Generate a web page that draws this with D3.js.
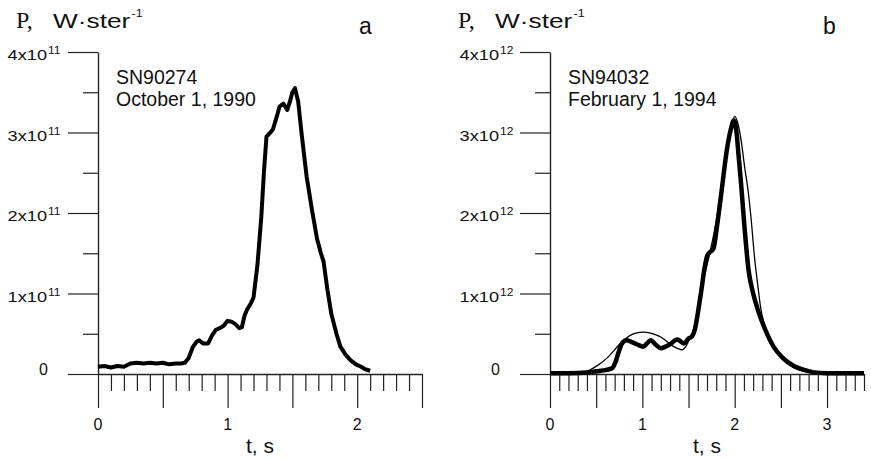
<!DOCTYPE html>
<html>
<head>
<meta charset="utf-8">
<script src="https://cdn.jsdelivr.net/npm/d3@7"></script>
<style>
 body{margin:0;background:#fff;}
 text{font-family:Arial,"Liberation Sans",sans-serif;fill:#111;}
 text.serif{font-family:"Liberation Serif","Times New Roman",serif;}
</style>
</head>
<body>
<svg id="svg" width="871" height="460"></svg>
<script>

var svg = d3.select("#svg");

// panel a : SN90274
var aTime  = [0,0.05,0.1,0.15,0.2,0.25,0.3,0.35,0.4,0.45,0.5,0.55,0.6,0.64,0.67,0.70,0.73,0.76,0.78,0.81,0.85,0.88,0.91,0.94,0.97,1.0,1.03,1.06,1.09,1.11,1.13,1.15,1.18,1.2,1.23,1.26,1.28,1.30,1.33,1.35,1.38,1.40,1.43,1.46,1.48,1.50,1.52,1.545,1.57,1.61,1.65,1.69,1.72,1.74,1.77,1.80,1.84,1.87,1.91,1.95,1.99,2.03,2.06,2.08,2.1];
var aPower = [0.09,0.1,0.08,0.1,0.09,0.13,0.14,0.13,0.14,0.13,0.14,0.12,0.13,0.13,0.14,0.2,0.33,0.4,0.42,0.38,0.38,0.48,0.55,0.57,0.6,0.66,0.65,0.62,0.57,0.58,0.72,0.8,0.88,0.95,1.35,1.95,2.5,2.95,3.0,3.04,3.2,3.32,3.36,3.28,3.38,3.5,3.55,3.38,3.0,2.45,2.05,1.68,1.5,1.4,1.05,0.75,0.5,0.34,0.24,0.17,0.12,0.09,0.06,0.05,0.04];

// panel b : SN94032, thick = observed, thin = model
var bTime  = [0,0.2,0.4,0.55,0.67,0.71,0.74,0.78,0.83,0.88,0.94,1.01,1.05,1.09,1.14,1.2,1.25,1.3,1.38,1.42,1.45,1.5,1.54,1.57,1.6,1.64,1.67,1.7,1.72,1.77,1.81,1.85,1.92,1.96,1.99,2.02,2.04,2.07,2.1,2.15,2.2,2.25,2.33,2.42,2.52,2.64,2.75,2.86,3.0,3.2,3.4];
var bPower = [0.01,0.01,0.02,0.04,0.07,0.15,0.26,0.38,0.42,0.4,0.37,0.34,0.38,0.42,0.37,0.32,0.34,0.37,0.43,0.4,0.38,0.44,0.47,0.56,0.75,1.05,1.29,1.46,1.5,1.56,1.85,2.2,2.82,3.05,3.15,3.0,2.74,2.35,1.91,1.29,1.0,0.8,0.55,0.34,0.2,0.1,0.05,0.02,0.01,0.01,0.01];
var mTime  = [0,0.2,0.3,0.43,0.52,0.62,0.7,0.76,0.82,0.87,0.94,1.01,1.08,1.14,1.2,1.27,1.34,1.4,1.43,1.47,1.52,1.57,1.62,1.67,1.73,1.8,1.87,1.94,1.98,2.0,2.03,2.07,2.11,2.14,2.18,2.21,2.25,2.28,2.34,2.42,2.52,2.64,2.78,2.9,3.0];
var mPower = [0,0.005,0.015,0.05,0.11,0.2,0.3,0.38,0.44,0.48,0.51,0.52,0.51,0.49,0.46,0.4,0.34,0.31,0.3,0.34,0.46,0.6,0.85,1.2,1.5,1.9,2.45,2.95,3.15,3.2,3.13,2.9,2.55,2.32,1.9,1.5,1.1,0.83,0.55,0.33,0.18,0.08,0.03,0.01,0];

var yTicks = [0,1,2,3,4];

var panels = [
  {x0:98,  x1:422, tMax:2.5, tLabels:[0,1,2],   exp:"11", letter:"a", letterX:359,
   name:"SN90274", date:"October 1, 1990", titleX:16},
  {x0:550, x1:864, tMax:3.4, tLabels:[0,1,2,3], exp:"12", letter:"b", letterX:823,
   name:"SN94032", date:"February 1, 1994", titleX:458}
];

var yScale = d3.scaleLinear().domain([0,4]).range([374,52]);

panels.forEach(function(p,k){
  var xScale = d3.scaleLinear().domain([0,p.tMax]).range([p.x0,p.x1]);
  p.xScale = xScale;
  var g = svg.append("g");

  // y axis : long ticks at integers, short ones at halves
  var yMinor = d3.range(0,4.01,0.5);
  g.append("g").attr("transform","translate("+p.x0+",0)")
   .call(d3.axisLeft(yScale).tickValues(yMinor).tickSizeOuter(0).tickFormat("")
         .tickSizeInner(0))
   .call(function(a){
      a.select(".domain").attr("stroke","#222").attr("stroke-width",1.4);
      a.selectAll(".tick line").attr("x2",function(d){return d%1===0 ? -30 : -15;})
       .attr("stroke","#222").attr("stroke-width",1.2);
   });

  // x axis
  var xMinor = d3.range(0,p.tMax+0.001,0.1).map(function(d){return Math.round(d*10)/10;});
  g.append("g").attr("transform","translate(0,374)")
   .call(d3.axisBottom(xScale).tickValues(xMinor).tickSizeOuter(0).tickFormat("").tickSizeInner(0))
   .call(function(a){
      a.select(".domain").attr("stroke","#222").attr("stroke-width",1.4);
      a.selectAll(".tick line").attr("y2",function(d){return Math.round(d*10)%5===0 ? 34 : 17;})
       .attr("stroke","#222").attr("stroke-width",1.2);
   });

  // x tick labels
  g.selectAll(".xl").data(p.tLabels).enter().append("text")
   .attr("x",function(d){return xScale(d);}).attr("y",430)
   .attr("text-anchor","middle").attr("font-size",16).text(function(d){return d;});
  g.append("text").attr("x",(p.x0+p.x1)/2).attr("y",453).attr("text-anchor","middle")
   .attr("font-size",21).text("t, s");

  // y tick labels
  yTicks.forEach(function(v){
    var y = yScale(v);
    if(v===0){
      g.append("text").attr("x",p.x0-50).attr("y",y+1).attr("text-anchor","end")
       .attr("font-size",16).text("0");
    } else {
      g.append("text").attr("text-anchor","end").attr("font-size",14)
       .attr("transform","translate("+(p.x0-51)+","+(y+8)+") scale(1.3,1)").text(v+"x10");
      g.append("text").attr("font-size",10)
       .attr("transform","translate("+(p.x0-50)+","+(y+2)+") scale(1.2,1)").text(p.exp);
    }
  });

  // title
  g.append("text").attr("class","serif").attr("x",p.titleX).attr("y",28)
   .attr("font-size",24).text("P,");
  var t = g.append("text").attr("transform","translate("+(p.titleX+37)+",28) scale(1.25,1)");
  t.append("tspan").attr("font-size",21).text("W\u00b7ster");
  t.append("tspan").attr("dx",1).attr("dy",-11).attr("font-size",10).text("-1");

  g.append("text").attr("x",p.letterX).attr("y",34).attr("font-size",23).text(p.letter);
  g.append("text").attr("x",p.x0+18).attr("y",84).attr("font-size",19.5).text(p.name);
  g.append("text").attr("x",p.x0+18).attr("y",106).attr("font-size",19.5).text(p.date);
});

var lineA = d3.line().x(function(d,i){return panels[0].xScale(aTime[i]);})
  .y(function(d){return yScale(d);}).curve(d3.curveLinear);
svg.append("path").datum(aPower).attr("d",lineA).attr("fill","none")
   .attr("stroke","#000").attr("stroke-width",4).attr("stroke-linejoin","round");

var lineM = d3.line().x(function(d,i){return panels[1].xScale(mTime[i]);})
  .y(function(d){return yScale(d);}).curve(d3.curveMonotoneX);
svg.append("path").datum(mPower).attr("d",lineM).attr("fill","none")
   .attr("stroke","#000").attr("stroke-width",1.3);

var lineB = d3.line().x(function(d,i){return panels[1].xScale(bTime[i]);})
  .y(function(d){return yScale(d);}).curve(d3.curveMonotoneX);
svg.append("path").datum(bPower).attr("d",lineB).attr("fill","none")
   .attr("stroke","#000").attr("stroke-width",4.5).attr("stroke-linejoin","round");

</script>
</body>
</html>
